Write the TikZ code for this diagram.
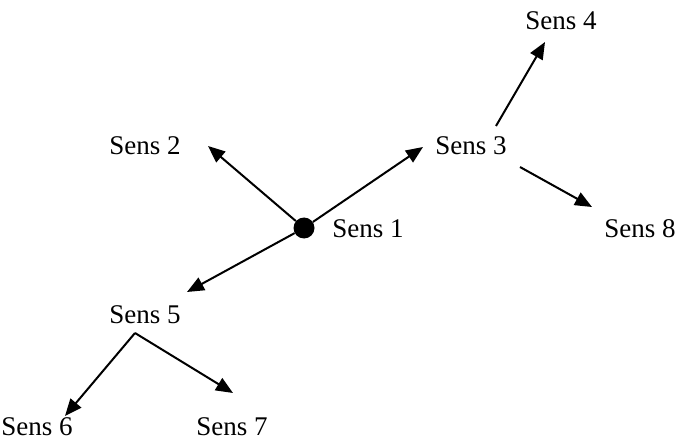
\documentclass[tikz,border=0pt]{standalone}
\usepackage{fontspec}
\setmainfont{Liberation Serif}
\usetikzlibrary{arrows.meta}
\begin{document}
\begin{tikzpicture}[x=1pt,y=-1pt,
  lbl/.style={anchor=base,inner sep=0pt,font=\fontsize{27}{32}\selectfont},
  conn/.style={line width=2pt,-{Triangle[length=17pt,width=14pt]}},
  hub/.style={circle,fill=black,minimum size=21pt,inner sep=0pt}]
\useasboundingbox (0,0) rectangle (678,441);
% labels
\node[lbl] (s1) at (368,237) {Sens 1};
\node[lbl] (s2) at (145,155) {Sens 2};
\node[lbl] (s3) at (471,155) {Sens 3};
\node[lbl] (s4) at (561,30) {Sens 4};
\node[lbl] (s5) at (145,323) {Sens 5};
\node[lbl] (s6) at (37,435) {Sens 6};
\node[lbl] (s7) at (232,435) {Sens 7};
\node[lbl] (s8) at (640,237) {Sens 8};
% hub
\node[hub] (dot) at (304,228) {};
% arrow endpoints
\coordinate (t2) at (208,146);
\coordinate (t3) at (423,147);
\coordinate (t5) at (187,292);
\coordinate (s5out) at (135,333);
\coordinate (t6) at (65,416);
\coordinate (t7) at (233,393);
\coordinate (s3up) at (496,126);
\coordinate (t4) at (545,42);
\coordinate (s3down) at (520,167);
\coordinate (t8) at (592,207);
% connectors
\draw[conn] (dot) -- (t2);
\draw[conn] (dot) -- (t3);
\draw[conn] (dot) -- (t5);
\draw[conn] (s5out) -- (t6);
\draw[conn] (s5out) -- (t7);
\draw[conn] (s3up) -- (t4);
\draw[conn] (s3down) -- (t8);
\end{tikzpicture}
\end{document}
